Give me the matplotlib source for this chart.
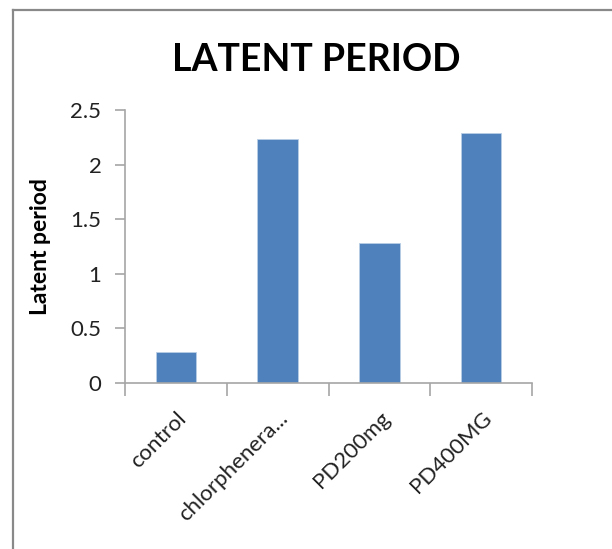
import matplotlib
matplotlib.use("Agg")
import matplotlib.pyplot as plt
from matplotlib.lines import Line2D

categories = ["control", "chlorphenera...", "PD200mg", "PD400MG"]
values = [0.28, 2.23, 1.28, 2.29]
yticks = [0, 0.5, 1, 1.5, 2, 2.5]
ytick_labels = ["0", "0.5", "1", "1.5", "2", "2.5"]

plt.rcParams['font.family'] = ['Lato', 'DejaVu Sans']

W, H = 612, 549
fig = plt.figure(figsize=(W/100, H/100), dpi=100)
fig.patch.set_facecolor("white")

# chart border (partially cropped)
bc = "#898989"
fig.add_artist(Line2D([13/W, 13/W], [0, 1 - 10/H], transform=fig.transFigure, color=bc, lw=1.6))
fig.add_artist(Line2D([13/W, 1.0], [1 - 10/H, 1 - 10/H], transform=fig.transFigure, color=bc, lw=1.6))

ax = fig.add_axes([125/W, 1 - 383/H, (532-125)/W, (383-110)/H])
x = range(len(categories))
ax.bar(x, values, width=0.4, color="#4F81BD", edgecolor="#B9CDE5", linewidth=0.6)
ax.set_xlim(-0.5, len(categories) - 0.5)
ax.set_ylim(0, 2.5)

ax.set_yticks(yticks)
ax.set_yticklabels(ytick_labels, fontsize=16, color="#222222")
ax.set_xticks([i - 0.5 for i in range(len(categories) + 1)], minor=False)
ax.set_xticklabels([])
ax.set_xticks(list(x), minor=True)
ax.set_xticklabels(categories, minor=True, rotation=45, ha="right",
                   rotation_mode="anchor", fontsize=16, color="#222222")
ax.tick_params(axis="x", which="minor", length=0, pad=18)
ax.tick_params(axis="x", which="major", length=9, width=1.2, color="#A6A6A6", direction="out")
ax.tick_params(axis="y", length=7, width=1.2, color="#A6A6A6", direction="out", pad=10)

for s in ["top", "right"]:
    ax.spines[s].set_visible(False)
for s in ["left", "bottom"]:
    ax.spines[s].set_color("#A6A6A6")
    ax.spines[s].set_linewidth(1.2)

ax.set_ylabel("Latent period", fontsize=16.5, fontweight="bold", labelpad=14, color="black")

fig.text(316/W, 1 - 60/H, "LATENT PERIOD", fontsize=27, fontweight="bold",
         ha="center", va="center", color="black")

fig.savefig("out.png", dpi=100, facecolor="white")
